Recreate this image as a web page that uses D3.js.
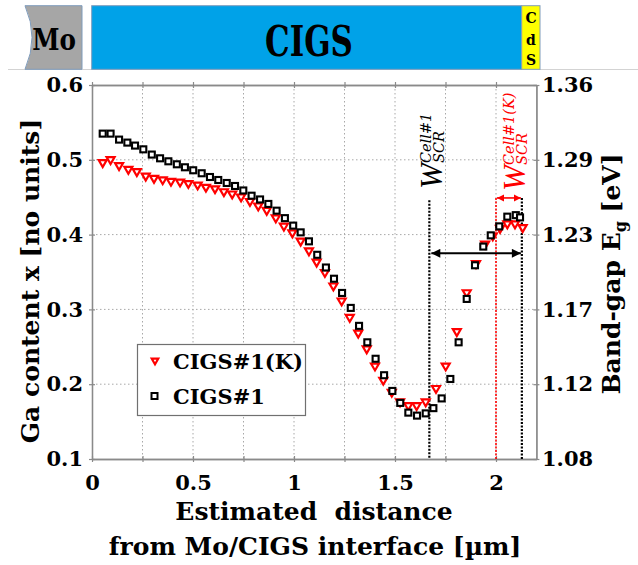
<!DOCTYPE html>
<html><head><meta charset="utf-8">
<script src="https://cdn.jsdelivr.net/npm/d3@7"></script>
<style>body{margin:0;background:#fff}svg{display:block}</style>
</head><body>
<svg id="c" width="638" height="565"></svg>
<script>
// ---- data ----
const blackX=[0.053,0.092,0.134,0.175,0.213,0.254,0.296,0.337,0.378,0.42,0.46,0.501,0.543,0.584,0.625,0.667,0.708,0.749,0.79,0.832,0.873,0.914,0.955,0.996,1.033,1.074,1.115,1.158,1.198,1.238,1.281,1.322,1.363,1.404,1.446,1.487,1.526,1.566,1.609,1.652,1.69,1.731,1.774,1.815,1.855,1.896,1.937,1.974,2.016,2.056,2.098,2.119];
const blackY=[0.535,0.535,0.527,0.523,0.519,0.514,0.507,0.502,0.498,0.494,0.490,0.486,0.482,0.477,0.473,0.469,0.465,0.459,0.452,0.447,0.441,0.432,0.422,0.412,0.403,0.391,0.373,0.356,0.341,0.322,0.302,0.278,0.256,0.234,0.212,0.191,0.175,0.162,0.158,0.161,0.168,0.181,0.207,0.256,0.314,0.359,0.384,0.399,0.411,0.424,0.426,0.423];
const redX=[0.053,0.092,0.134,0.18,0.222,0.266,0.307,0.35,0.391,0.436,0.477,0.523,0.564,0.609,0.653,0.694,0.738,0.782,0.823,0.865,0.91,0.95,0.992,1.033,1.074,1.112,1.153,1.195,1.236,1.276,1.318,1.36,1.401,1.442,1.484,1.525,1.566,1.607,1.652,1.703,1.751,1.806,1.855,1.901,1.946,1.984,2.02,2.056,2.094,2.132];
const redY=[0.495,0.499,0.491,0.486,0.483,0.477,0.474,0.472,0.470,0.469,0.467,0.465,0.462,0.460,0.456,0.453,0.449,0.443,0.437,0.431,0.421,0.410,0.401,0.390,0.377,0.362,0.348,0.330,0.310,0.288,0.267,0.246,0.223,0.204,0.188,0.175,0.170,0.170,0.175,0.193,0.223,0.269,0.321,0.360,0.386,0.397,0.407,0.413,0.413,0.408];
const seriesNames=["CIGS#1(K)","CIGS#1"];
const yTicks=[0.1,0.2,0.3,0.4,0.5,0.6];
const yRightLabels=["1.08","1.12","1.17","1.23","1.29","1.36"];
const xTicks=[0,0.25,0.5,0.75,1,1.25,1.5,1.75,2];
const scrX=[1.67,2.0,2.128];      // SCR boundary lines
const scrTop=[0.446,0.449,0.449];
const layers=["Mo","CIGS","CdS"];

const F="'DejaVu Serif', serif";
const svg=d3.select("#c");
const x=d3.scaleLinear([0,2.2],[92,536.4]);
const y=d3.scaleLinear([0.1,0.6],[459,85]);
const L=x(0),R=x(2.2),T=y(0.6),B=y(0.1);

// ---- top layer bar ----
const bar=svg.append("g");
bar.append("line").attr("x1",8).attr("x2",638).attr("y1",69.5).attr("y2",69.5).attr("stroke","#d3d3d3");
bar.append("path").attr("d","M25,5.7 L82,5.7 L82,69.3 L25,69.3 Q39,37.5 25,5.7Z")
  .attr("fill","#a6a6a6").attr("stroke","#7f9cbc").attr("stroke-width",1);
bar.append("rect").attr("x",91.7).attr("y",5.7).attr("width",430).attr("height",63.6)
  .attr("fill","#00a2e8").attr("stroke","#7f9cbc").attr("stroke-width",1);
bar.append("rect").attr("x",521.7).attr("y",5.7).attr("width",18.3).attr("height",63.6)
  .attr("fill","#ffff00").attr("stroke","#7f9cbc").attr("stroke-width",1);
bar.append("text").attr("transform","translate(54,50) scale(0.85,1)").attr("text-anchor","middle")
  .attr("font-family",F).attr("font-weight","bold").attr("font-size",29).text(layers[0]);
bar.append("text").attr("transform","translate(309,56) scale(0.72,1)").attr("text-anchor","middle")
  .attr("font-family",F).attr("font-weight","bold").attr("font-size",43).text(layers[1]);
const cds=layers[2].split("");
[23,45,65].forEach((yy,i)=>bar.append("text").attr("x",531).attr("y",yy).attr("text-anchor","middle")
  .attr("font-family",F).attr("font-weight","bold").attr("font-size",14).text(cds[i]));

// ---- grid ----
const grid=svg.append("g").attr("stroke","#a8a8a8").attr("stroke-width",1).attr("stroke-dasharray","1.5,2.5");
grid.selectAll(".gx").data(xTicks.filter(d=>d>0)).join("line")
  .attr("x1",d=>x(d)).attr("x2",d=>x(d)).attr("y1",T).attr("y2",B);
grid.selectAll(".gy").data(yTicks.filter(d=>d>0.1&&d<0.6)).join("line")
  .attr("y1",d=>y(d)).attr("y2",d=>y(d)).attr("x1",L).attr("x2",R);

// ---- axes ----
const AX="#8a8a8a";
function styleAxis(g){g.select(".domain").attr("stroke",AX).attr("stroke-width",1.3);
  g.selectAll(".tick line").attr("stroke",AX).attr("stroke-width",1.2);
  g.selectAll("text").attr("font-family",F).attr("font-weight","bold").attr("font-size",21).attr("fill","#000");}
const fmtX=d=>(Math.abs(d*2-Math.round(d*2))<1e-9)?d3.format("")(d):"";
const gb=svg.append("g").attr("transform",`translate(0,${B})`).call(d3.axisBottom(x).tickValues(xTicks).tickSize(3).tickSizeOuter(0).tickFormat(fmtX));
styleAxis(gb); gb.selectAll("text").attr("y",31).attr("dy",0);
svg.append("g").attr("transform",`translate(0,${B})`).call(d3.axisBottom(x).tickValues(xTicks).tickSize(-3).tickSizeOuter(0).tickFormat("")).call(styleAxis);
const gt=svg.append("g").attr("transform",`translate(0,${T})`).call(d3.axisTop(x).tickValues(xTicks).tickSize(3).tickSizeOuter(0).tickFormat(""));styleAxis(gt);
svg.append("g").attr("transform",`translate(0,${T})`).call(d3.axisTop(x).tickValues(xTicks).tickSize(-3).tickSizeOuter(0).tickFormat("")).call(styleAxis);
const gl=svg.append("g").attr("transform",`translate(${L},0)`).call(d3.axisLeft(y).tickValues(yTicks).tickSize(3).tickSizeOuter(0).tickFormat(d3.format(".1f")));
styleAxis(gl); gl.selectAll("text").attr("x",-9);
svg.append("g").attr("transform",`translate(${L},0)`).call(d3.axisLeft(y).tickValues(yTicks).tickSize(-3).tickSizeOuter(0).tickFormat("")).call(styleAxis);
const gr=svg.append("g").attr("transform",`translate(${R},0)`).call(d3.axisRight(y).tickValues(yTicks).tickSize(3).tickSizeOuter(0).tickFormat((d,i)=>yRightLabels[i]));
styleAxis(gr); gr.selectAll("text").attr("x",5.6);
svg.append("g").attr("transform",`translate(${R},0)`).call(d3.axisRight(y).tickValues(yTicks).tickSize(-3).tickSizeOuter(0).tickFormat("")).call(styleAxis);

// ---- titles ----
svg.append("text").attr("transform","translate(39,281) rotate(-90)").attr("text-anchor","middle")
  .attr("font-family",F).attr("font-weight","bold").attr("font-size",25).text("Ga content x [no units]");
const rt=svg.append("text").attr("transform","translate(620,274) rotate(-90)").attr("text-anchor","middle")
  .attr("font-family",F).attr("font-weight","bold").attr("font-size",25);
rt.append("tspan").text("Band-gap E");
rt.append("tspan").attr("font-size",16).attr("dy",6).text("g");
rt.append("tspan").attr("dy",-6).text(" [eV]");
svg.append("text").attr("x",314).attr("y",520).attr("text-anchor","middle").style("white-space","pre")
  .attr("font-family",F).attr("font-weight","bold").attr("font-size",25).text("Estimated  distance");
svg.append("text").attr("x",315).attr("y",555).attr("text-anchor","middle")
  .attr("font-family",F).attr("font-weight","bold").attr("font-size",25).text("from Mo/CIGS interface [µm]");

// ---- SCR annotations ----
const defs=svg.append("defs");
function mk(id,color,w,h){defs.append("marker").attr("id",id).attr("viewBox","0 0 10 10").attr("refX",10).attr("refY",5)
  .attr("markerWidth",w).attr("markerHeight",h).attr("markerUnits","userSpaceOnUse").attr("orient","auto-start-reverse")
  .append("path").attr("d","M0,0 L10,5 L0,10 Z").attr("fill",color);}
mk("ab","#000",11,9); mk("ar","#ff0000",7,8);
const scrColors=["#000","#ff0000","#000"];
scrX.forEach((v,i)=>svg.append("line").attr("x1",x(v)).attr("x2",x(v)).attr("y1",y(scrTop[i])).attr("y2",B)
  .attr("stroke",scrColors[i]).attr("stroke-width",i===1?1.6:2.2).attr("stroke-dasharray","2,1.5"));
svg.append("line").attr("x1",x(scrX[0])+2).attr("x2",x(scrX[2])-1).attr("y1",y(0.375)).attr("y2",y(0.375))
  .attr("stroke","#000").attr("stroke-width",2).attr("marker-start","url(#ab)").attr("marker-end","url(#ab)");
svg.append("line").attr("x1",x(scrX[1])+1).attr("x2",x(scrX[2])-1).attr("y1",y(scrTop[1])).attr("y2",y(scrTop[1]))
  .attr("stroke","#ff0000").attr("stroke-width",1.6).attr("marker-start","url(#ar)").attr("marker-end","url(#ar)");
function wLabel(tx,ty,color,sup){
  const g=svg.append("g").attr("transform",`translate(${tx},${ty}) rotate(-90)`).attr("fill",color);
  g.append("text").attr("x",0).attr("y",0).attr("font-family","'Liberation Serif', serif").attr("font-style","italic").attr("font-size",31).text("W");
  g.append("text").attr("x",26).attr("y",-11).attr("font-family",F).attr("font-style","italic").attr("font-size",14.5).text(sup);
  g.append("text").attr("x",26).attr("y",2).attr("font-family",F).attr("font-style","italic").attr("font-size",14.5).text("SCR");
}
wLabel(442,189,"#000","Cell#1");
wLabel(525,191,"#ff0000","Cell#1(K)");

// ---- markers ----
const tri=(s)=>`M${-s/2},${-s*0.43} L${s/2},${-s*0.43} L0,${s*0.43} Z`;
svg.append("g").selectAll("path").data(redX.map((d,i)=>[d,redY[i]])).join("path")
  .attr("transform",d=>`translate(${x(d[0])},${y(d[1])})`).attr("d",tri(8))
  .attr("fill","#fff").attr("stroke","#ff0000").attr("stroke-width",2.2).attr("stroke-linejoin","miter");
svg.append("g").selectAll("rect").data(blackX.map((d,i)=>[d,blackY[i]])).join("rect")
  .attr("x",d=>x(d[0])-3).attr("y",d=>y(d[1])-3).attr("width",6).attr("height",6)
  .attr("fill","#fff").attr("stroke","#000").attr("stroke-width",2.1);

// ---- legend ----
const lg=svg.append("g");
lg.append("rect").attr("x",137.5).attr("y",344.5).attr("width",168).attr("height",71).attr("fill","#fff").attr("stroke","#707070").attr("stroke-width",1.2);
lg.append("path").attr("transform","translate(155,361.5)").attr("d",tri(6.5)).attr("fill","#fff").attr("stroke","#ff0000").attr("stroke-width",2.2);
lg.append("rect").attr("x",151.5).attr("y",393).attr("width",6).attr("height",6).attr("fill","#fff").attr("stroke","#000").attr("stroke-width",2);
lg.append("text").attr("x",173).attr("y",369).attr("font-family",F).attr("font-weight","bold").attr("font-size",21).text(seriesNames[0]);
lg.append("text").attr("x",173).attr("y",404).attr("font-family",F).attr("font-weight","bold").attr("font-size",21).text(seriesNames[1]);
</script>
</body></html>
